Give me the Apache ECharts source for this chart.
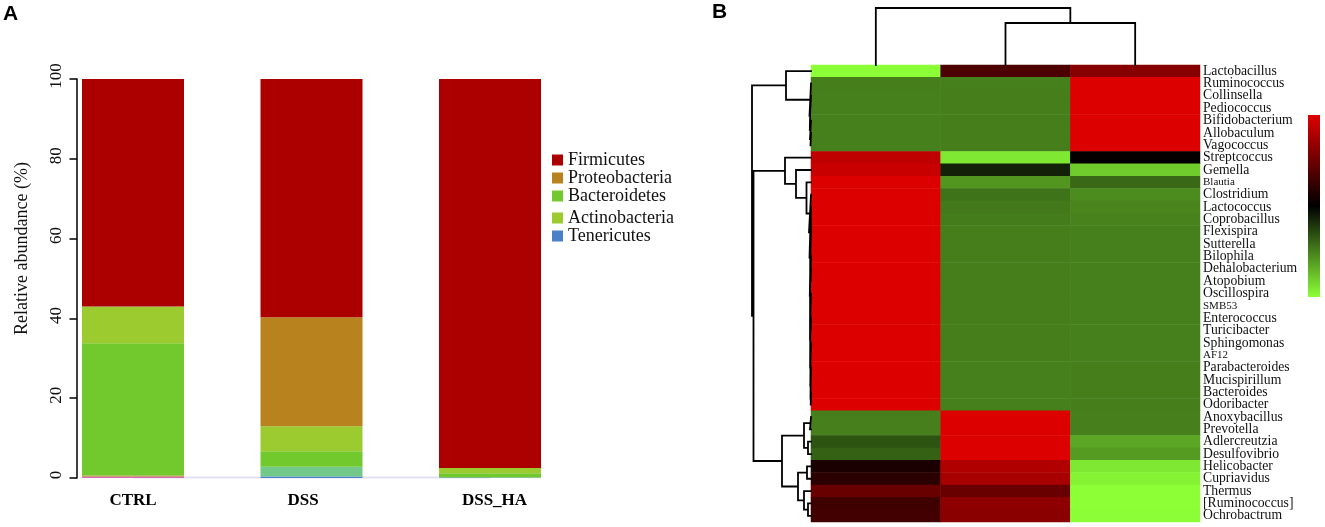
<!DOCTYPE html>
<html>
<head>
<meta charset="utf-8">
<script src="https://cdn.jsdelivr.net/npm/echarts@6/dist/echarts.min.js"></script>
<style>
html, body { margin: 0; padding: 0; background: #fff; }
#main { width: 1325px; height: 527px; }
</style>
</head>
<body>
<div id="main"></div>
<script>
// panel A
var groups = ['CTRL', 'DSS', 'DSS_HA'];
var other = [0.4, 0, 0];
var tenericutes = [0, 0.4, 0.15];
var unclassified = [0, 2.4, 0];
var proteoMinor = [0.25, 0, 0];
var bacteroidetes = [33.1, 3.9, 1.05];
var actinobacteria = [9.25, 6.3, 1.3];
var proteobacteria = [0, 27.3, 0];
var firmicutes = [57, 59.7, 97.5];
var baseline = [0.1, 0.1, 0.1];

// panel B
var columns = ['c1', 'c2', 'c3'];
var genera = ['Lactobacillus', 'Ruminococcus', 'Collinsella', 'Pediococcus', 'Bifidobacterium', 'Allobaculum', 'Vagococcus',
    'Streptcoccus', 'Gemella', 'Blautia', 'Clostridium', 'Lactococcus', 'Coprobacillus', 'Flexispira', 'Sutterella', 'Bilophila',
    'Dehalobacterium', 'Atopobium', 'Oscillospira', 'SMB53', 'Enterococcus', 'Turicibacter', 'Sphingomonas', 'AF12',
    'Parabacteroides', 'Mucispirillum', 'Bacteroides', 'Odoribacter', 'Anoxybacillus', 'Prevotella', 'Adlercreutzia',
    'Desulfovibrio', 'Helicobacter', 'Cupriavidus', 'Thermus', '[Ruminococcus]', 'Ochrobactrum'];
var smallLabels = ['Blautia', 'SMB53', 'AF12'];
var heatValues = [
    [-1.15, 0.40, 0.70],
    [-0.57, -0.58, 1.155], [-0.58, -0.57, 1.155], [-0.58, -0.57, 1.155], [-0.58, -0.57, 1.155], [-0.58, -0.57, 1.155], [-0.58, -0.57, 1.155],
    [1.00, -1.05, 0.02],
    [1.05, -0.15, -0.92],
    [1.15, -0.68, -0.47],
    [1.15, -0.52, -0.63],
    [1.155, -0.55, -0.60],
    [1.155, -0.56, -0.59],
    [1.155, -0.57, -0.58], [1.155, -0.57, -0.58], [1.155, -0.57, -0.58], [1.155, -0.57, -0.58], [1.155, -0.57, -0.58], [1.155, -0.57, -0.58],
    [1.155, -0.57, -0.58], [1.155, -0.57, -0.58], [1.155, -0.57, -0.58], [1.155, -0.57, -0.58], [1.155, -0.57, -0.58],
    [1.155, -0.58, -0.57], [1.155, -0.58, -0.57], [1.155, -0.58, -0.57], [1.155, -0.58, -0.57],
    [-0.577, 1.155, -0.577], [-0.577, 1.155, -0.577],
    [-0.38, 1.155, -0.75],
    [-0.44, 1.155, -0.70],
    [0.14, 0.92, -1.05],
    [0.22, 0.88, -1.10],
    [0.55, 0.55, -1.155],
    [0.33, 0.74, -1.155],
    [0.35, 0.72, -1.15]
];

// dendrograms: [merge height, left child, right child], a bare number is a leaf
var restTree = [2, 10, [1.5, 11, [1.2, 12, [1, [0.8, [0.6, 13, 14], [0.6, 15, [0.4, 16, 17]]],
    [0.9, [0.6, [0.4, 18, 19], [0.4, 20, 21]], [0.7, [0.4, 22, 23], [0.5, [0.3, 24, 25], [0.3, 26, 27]]]]]]]];
var rowTree = [59,
    [25, 0, [1.5, 1, [1.2, [0.6, 2, 3], [1, 4, [0.5, 5, 6]]]]],
    [57.5,
        [26, 7, [15, 8, [4.5, 9, restTree]]],
        [29,
            [7, [1, 28, 29], [3, 30, 31]],
            [13, [4, 32, 33], [7, 34, [3, 35, 36]]]]]];
var columnTree = [57, 0, [42, 1, 2]];

function treeSegments(node, swap, out) {
    if (typeof node === 'number') return { h: 0, pos: node };
    var a = treeSegments(node[1], swap, out);
    var b = treeSegments(node[2], swap, out);
    var pts = [[a.h, a.pos], [node[0], a.pos], [node[0], b.pos], [b.h, b.pos]];
    pts.forEach(function (p) { out.push(swap ? [p[1], p[0]] : p); });
    out.push(['-', '-']);
    return { h: node[0], pos: (a.pos + b.pos) / 2 };
}
var rowLines = [];
treeSegments(rowTree, false, rowLines);
var columnLines = [];
treeSegments(columnTree, true, columnLines);

var heatData = [];
for (var r = 0; r < genera.length; r++) {
    for (var c = 0; c < columns.length; c++) {
        heatData.push([c, genera[r], heatValues[r][c]]);
    }
}

var serif = '"Liberation Serif", serif';
var legendNames = ['Firmicutes', 'Proteobacteria', 'Bacteroidetes', 'Actinobacteria', 'Tenericutes'];
var legendTops = [151, 169, 187, 209, 227];
var scaleColors = ['#8cff37', '#000000', '#dd0000'];

function stackBar(name, data, color) {
    return {
        name: name, type: 'bar', stack: 'abundance', data: data, barWidth: 102,
        xAxisIndex: 0, yAxisIndex: 0, itemStyle: { color: color }
    };
}
function dendro(data, axis) {
    return {
        type: 'line', data: data, xAxisIndex: axis, yAxisIndex: axis, showSymbol: false, symbol: 'none',
        clip: false, silent: true, connectNulls: false,
        lineStyle: { color: '#000', width: 1.8, cap: 'square', join: 'miter' }
    };
}

var chart = echarts.init(document.getElementById('main'));
var option = {
    animation: false,
    backgroundColor: '#fff',
    title: [
        { text: 'A', left: 3, top: 4, padding: 0, textStyle: { fontFamily: '"Liberation Sans"', fontSize: 21, fontWeight: 'bold', color: '#000' } },
        { text: 'B', left: 712, top: 2, padding: 0, textStyle: { fontFamily: '"Liberation Sans"', fontSize: 21, fontWeight: 'bold', color: '#000' } }
    ],
    legend: legendNames.map(function (n, i) {
        return {
            data: [n], left: 552, top: legendTops[i], orient: 'vertical', padding: 0,
            itemWidth: 11, itemHeight: 11, itemGap: 0, icon: 'rect', selectedMode: false,
            textStyle: { fontFamily: serif, fontSize: 18, color: '#111' }
        };
    }),
    grid: [
        { left: 43.75, top: 79, width: 535.5, height: 399 },
        { left: 811, top: 65, width: 389, height: 457 },
        { left: 750, top: 65, width: 61, height: 457 },
        { left: 811, top: 8, width: 389, height: 57 }
    ],
    xAxis: [
        {
            type: 'category', gridIndex: 0, axisLine: { show: false }, axisTick: { show: false },
            data: [
                groups[0],
                { value: groups[1], textStyle: { padding: [0, 17, 0, 0] } },
                { value: groups[2], textStyle: { padding: [0, 0, 0, 9] } }
            ],
            axisLabel: { fontFamily: serif, fontSize: 17, fontWeight: 'bold', color: '#000', margin: 14 }
        },
        { type: 'category', gridIndex: 1, data: columns, show: false },
        { type: 'value', gridIndex: 2, min: 0, max: 61, inverse: true, show: false },
        { type: 'value', gridIndex: 3, min: -0.5, max: 2.5, show: false }
    ],
    yAxis: [
        {
            type: 'value', gridIndex: 0, min: 0, max: 100, interval: 20, offset: -33.25,
            name: 'Relative abundance (%)', nameLocation: 'middle', nameGap: 46,
            nameTextStyle: { fontFamily: serif, fontSize: 18, color: '#111', padding: [0, 0, 0, 60] },
            splitLine: { show: false },
            axisLine: { show: true, lineStyle: { color: '#000', width: 1.5 } },
            axisTick: { show: true, length: 7.5, lineStyle: { color: '#000', width: 1.5 } },
            axisLabel: { rotate: 90, fontFamily: serif, fontSize: 17, color: '#111', margin: 12, padding: [0, 0, 0, 6] }
        },
        {
            type: 'category', gridIndex: 1, position: 'right', inverse: true,
            data: genera.map(function (g) {
                return smallLabels.indexOf(g) >= 0 ? { value: g, textStyle: { fontSize: 11 } } : g;
            }),
            axisLine: { show: false }, axisTick: { show: false },
            axisLabel: { interval: 0, fontFamily: serif, fontSize: 13.7, color: '#111', margin: 3, lineHeight: 12, padding: [0, 0, 2, 0] }
        },
        { type: 'value', gridIndex: 2, min: -0.5, max: 36.5, inverse: true, show: false },
        { type: 'value', gridIndex: 3, min: 0, max: 57, show: false }
    ],
    visualMap: {
        type: 'continuous', show: false, seriesIndex: 9, min: -1.155, max: 1.155,
        inRange: { color: scaleColors }
    },
    // colour key, square cornered unlike the visualMap bar
    graphic: [{
        type: 'rect', left: 1308, top: 115, shape: { width: 12, height: 182 }, silent: true,
        style: {
            fill: new echarts.graphic.LinearGradient(0, 0, 0, 1, [
                { offset: 0, color: scaleColors[2] },
                { offset: 0.5, color: scaleColors[1] },
                { offset: 1, color: scaleColors[0] }
            ])
        }
    }],
    series: [
        {
            type: 'line', data: baseline, xAxisIndex: 0, yAxisIndex: 0, symbol: 'none', z: 1, silent: true,
            lineStyle: { color: '#e4e0fa', width: 2 }
        },
        stackBar('Other', other, '#d070b0'),
        stackBar('Tenericutes', tenericutes, '#4a80c8'),
        stackBar('Unclassified', unclassified, '#72c98a'),
        stackBar('Proteobacteria minor', proteoMinor, '#b8821f'),
        stackBar('Bacteroidetes', bacteroidetes, '#72c92e'),
        stackBar('Actinobacteria', actinobacteria, '#9ccb30'),
        stackBar('Proteobacteria', proteobacteria, '#b8821f'),
        stackBar('Firmicutes', firmicutes, '#ac0000'),
        {
            type: 'heatmap', data: heatData, xAxisIndex: 1, yAxisIndex: 1, silent: true,
            itemStyle: { borderWidth: 0 }, progressive: 0
        },
        dendro(rowLines, 2),
        dendro(columnLines, 3)
    ]
};
chart.setOption(option);
</script>
</body>
</html>
